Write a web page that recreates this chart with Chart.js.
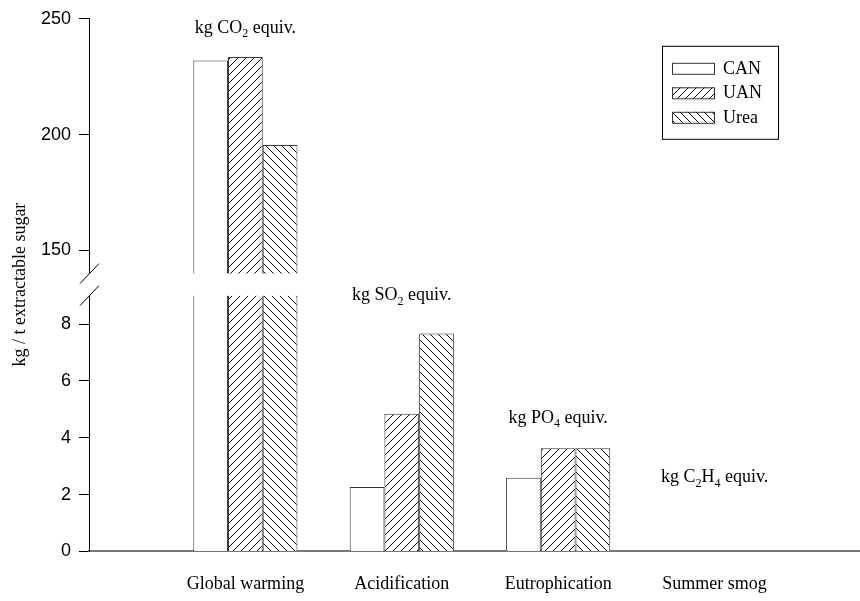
<!DOCTYPE html>
<html>
<head>
<meta charset="utf-8">
<script src="https://cdn.jsdelivr.net/npm/chart.js@4.4.0/dist/chart.umd.min.js"></script>
<style>
  html, body { margin: 0; padding: 0; background: #fff; }
  #wrap { width: 860px; height: 601px; }
</style>
</head>
<body>
<div id="wrap"><canvas id="lcaChart"></canvas></div>
<script>
// datos
const categories = ['Global warming', 'Acidification', 'Eutrophication', 'Summer smog'];
const seriesNames = ['CAN', 'UAN', 'Urea'];
const canValues = [232, 2.27, 2.59, 0];
const uanValues = [233.5, 4.84, 3.63, 0];
const ureaValues = [195.5, 7.67, 3.63, 0];
const lowerTicks = [0, 2, 4, 6, 8];
const upperTicks = [150, 200, 250];
const unitLabels = ['kg CO_2 equiv.', 'kg SO_2 equiv.', 'kg PO_4 equiv.', 'kg C_2H_4 equiv.'];

// tramos del eje partido
const LOW_MAX = 9;
const HIGH_MIN = 140;
const HIGH_MAX = 250;

const SERIF = '"Liberation Serif", "Times New Roman", serif';
const SANS = '"Liberation Sans", Arial, sans-serif';

function makeHatch(dir) {
    const s = 8;
    const c = document.createElement('canvas');
    c.width = s; c.height = s;
    const g = c.getContext('2d');
    g.fillStyle = '#fff';
    g.fillRect(0, 0, s, s);
    if (dir) {
        g.strokeStyle = '#000';
        g.lineWidth = 1;
        g.beginPath();
        if (dir === '/') {
            g.moveTo(0, s); g.lineTo(s, 0);
            g.moveTo(-1, 1); g.lineTo(1, -1);
            g.moveTo(s - 1, s + 1); g.lineTo(s + 1, s - 1);
        } else {
            g.moveTo(0, 0); g.lineTo(s, s);
            g.moveTo(-1, s - 1); g.lineTo(1, s + 1);
            g.moveTo(s - 1, -1); g.lineTo(s + 1, 1);
        }
        g.stroke();
    }
    return g.createPattern(c, 'repeat');
}

const fills = [makeHatch(null), makeHatch('/'), makeHatch('\\')];
const allValues = [canValues, uanValues, ureaValues];

// parte baja (0-9) y parte alta (140-250) de cada serie
const datasets = [];
allValues.forEach((vals, i) => {
    datasets.push({
        label: seriesNames[i],
        data: vals.map((v, k) => ({ x: k + 1, y: Math.min(v, LOW_MAX) })),
        yAxisID: 'yLow',
        stack: seriesNames[i],
        backgroundColor: fills[i],
        borderColor: '#333',
        borderWidth: (ctx) => {
            const v = vals[ctx.dataIndex];
            return v > LOW_MAX ? { left: 1, right: 1, top: 0, bottom: 0 } : 1;
        }
    });
});
allValues.forEach((vals, i) => {
    datasets.push({
        label: seriesNames[i] + ' (upper)',
        data: vals.map((v, k) => ({ x: k + 1, y: v > HIGH_MIN ? v : null })),
        yAxisID: 'yHigh',
        stack: seriesNames[i],
        backgroundColor: fills[i],
        borderColor: '#333',
        borderWidth: 1
    });
});

const fixWidth = (scale) => { scale.width = 89; };

const yCommon = {
    type: 'linear',
    position: 'left',
    stack: 'vals',
    stacked: false,
    afterFit: fixWidth,
    border: { display: true, color: '#000', width: 1 },
    grid: { drawOnChartArea: false, drawTicks: true, tickLength: 10, color: '#000' },
    ticks: { color: '#000', padding: 8, font: { family: SANS, size: 18 } }
};

// marcas de corte del eje y etiquetas de unidades
const breakAndLabels = {
    id: 'breakAndLabels',
    afterDatasetsDraw(chart) {
        const ctx = chart.ctx;
        const hi = chart.scales.yHigh;
        const lo = chart.scales.yLow;
        const x = chart.scales.x;
        const ax = lo.right;
        ctx.save();
        ctx.strokeStyle = '#000';
        ctx.lineWidth = 1;
        ctx.beginPath();
        ctx.moveTo(ax - 9, hi.bottom + 10); ctx.lineTo(ax + 10, hi.bottom - 10);
        ctx.moveTo(ax - 9, lo.top + 10); ctx.lineTo(ax + 10, lo.top - 10);
        ctx.stroke();

        const labelAt = [[hi, 246], [lo, 9.0], [lo, 4.7], [lo, 2.6]];
        unitLabels.forEach((txt, i) => {
            const [sc, v] = labelAt[i];
            drawSubText(ctx, txt, x.getPixelForValue(i + 1), sc.getPixelForValue(v));
        });
        ctx.restore();
    }
};

function drawSubText(ctx, txt, cx, cy) {
    const parts = [];
    let buf = '';
    for (let i = 0; i < txt.length; i++) {
        if (txt[i] === '_') {
            if (buf) parts.push([buf, false]);
            buf = '';
            parts.push([txt[i + 1], true]);
            i++;
        } else {
            buf += txt[i];
        }
    }
    if (buf) parts.push([buf, false]);
    const big = '18px ' + SERIF;
    const small = '12px ' + SERIF;
    let total = 0;
    parts.forEach(p => { ctx.font = p[1] ? small : big; total += ctx.measureText(p[0]).width; });
    let px = cx - total / 2;
    ctx.fillStyle = '#000';
    ctx.textBaseline = 'middle';
    ctx.textAlign = 'left';
    parts.forEach(p => {
        ctx.font = p[1] ? small : big;
        ctx.fillText(p[0], px, p[1] ? cy + 6 : cy);
        px += ctx.measureText(p[0]).width;
    });
}

// leyenda dentro del area del grafico, con recuadro
const boxLegend = {
    id: 'boxLegend',
    afterDraw(chart) {
        const ctx = chart.ctx;
        const area = chart.chartArea;
        const left = area.right - 198;
        const top = area.top + 27;
        ctx.save();
        ctx.strokeStyle = '#000';
        ctx.lineWidth = 1;
        ctx.strokeRect(left + 0.5, top + 0.5, 116, 93);
        ctx.font = '18px ' + SERIF;
        ctx.textBaseline = 'middle';
        ctx.fillStyle = '#000';
        seriesNames.forEach((name, i) => {
            const cy = top + 22 + i * 24.5;
            ctx.fillStyle = fills[i];
            ctx.fillRect(left + 10, cy - 5, 42, 11);
            ctx.strokeStyle = '#333';
            ctx.strokeRect(left + 10.5, cy - 4.5, 42, 11);
            ctx.fillStyle = '#000';
            ctx.fillText(name, left + 61, cy + 1);
        });
        ctx.restore();
    }
};

new Chart(document.getElementById('lcaChart'), {
    type: 'bar',
    data: { datasets: datasets },
    options: {
        responsive: true,
        maintainAspectRatio: false,
        animation: false,
        categoryPercentage: 0.666,
        barPercentage: 1.0,
        layout: { padding: { top: 10, right: 0, bottom: -16, left: 0 } },
        scales: {
            x: {
                type: 'linear',
                offset: false,
                min: 0,
                max: 4.93,
                afterBuildTicks: (scale) => { scale.ticks = categories.map((c, i) => ({ value: i + 1 })); },
                border: { display: true, color: '#777', width: 2 },
                grid: { display: false, drawTicks: false, offset: false },
                ticks: {
                    color: '#000',
                    padding: 22,
                    maxRotation: 0,
                    autoSkip: false,
                    font: { family: SERIF, size: 18 },
                    callback: (v) => categories[Math.round(v) - 1] || ''
                }
            },
            yLow: Object.assign({}, yCommon, {
                min: 0,
                max: LOW_MAX,
                stackWeight: 256,
                afterBuildTicks: (scale) => { scale.ticks = lowerTicks.map(v => ({ value: v })); }
            }),
            yGap: {
                type: 'linear',
                position: 'left',
                stack: 'vals',
                stackWeight: 22,
                afterFit: fixWidth,
                border: { display: false },
                grid: { display: false },
                ticks: { display: false },
                title: {
                    display: true,
                    text: 'kg / t extractable sugar',
                    color: '#000',
                    padding: { top: 9, bottom: 0 },
                    font: { family: SERIF, size: 18 }
                }
            },
            yHigh: Object.assign({}, yCommon, {
                min: HIGH_MIN,
                max: HIGH_MAX,
                stackWeight: 255,
                afterBuildTicks: (scale) => { scale.ticks = upperTicks.map(v => ({ value: v })); }
            })
        },
        plugins: {
            legend: { display: false },
            tooltip: { enabled: false }
        }
    },
    plugins: [breakAndLabels, boxLegend]
});
</script>
</body>
</html>
